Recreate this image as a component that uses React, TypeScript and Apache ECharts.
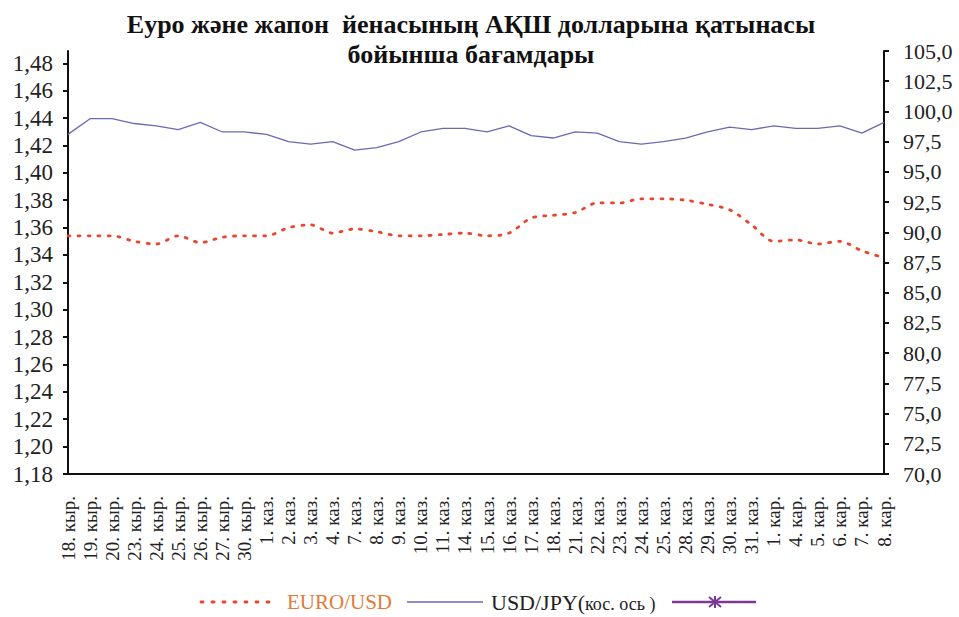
import React, { useEffect, useRef } from "react";
import * as echarts from "echarts";

const categories = [
  "18. кыр.", "19. кыр.", "20. кыр.", "23. кыр.", "24. кыр.", "25. кыр.", "26. кыр.", "27. кыр.", "30. кыр.",
  "1. каз.", "2. каз.", "3. каз.", "4. каз.", "7. каз.", "8. каз.", "9. каз.", "10. каз.", "11. каз.",
  "14. каз.", "15. каз.", "16. каз.", "17. каз.", "18. каз.", "21. каз.", "22. каз.", "23. каз.", "24. каз.",
  "25. каз.", "28. каз.", "29. каз.", "30. каз.", "31. каз.",
  "1. кар.", "4. кар.", "5. кар.", "6. кар.", "7. кар.", "8. кар.",
];

const euroUsd = [
  1.354, 1.354, 1.354, 1.350, 1.348, 1.354, 1.349, 1.353, 1.354,
  1.354, 1.360, 1.362, 1.356, 1.359, 1.357, 1.354, 1.354, 1.355,
  1.356, 1.354, 1.356, 1.367, 1.369, 1.371, 1.378, 1.378, 1.381,
  1.381, 1.380, 1.377, 1.373, 1.362,
  1.350, 1.351, 1.348, 1.350, 1.343, 1.338,
];

const usdJpy = [
  98.1, 99.4, 99.4, 99.0, 98.8, 98.5, 99.1, 98.3, 98.3,
  98.1, 97.5, 97.3, 97.5, 96.8, 97.0, 97.5, 98.3, 98.6,
  98.6, 98.3, 98.8, 98.0, 97.8, 98.3, 98.2, 97.5, 97.3,
  97.5, 97.8, 98.3, 98.7, 98.5,
  98.8, 98.6, 98.6, 98.8, 98.2, 99.1,
];

const leftMin = 1.18;
const leftMax = 1.489;
const leftStep = 0.02;
const rightMin = 70;
const rightMax = 105;
const rightStep = 2.5;

const titleText = "Еуро және жапон  йенасының АҚШ долларына қатынасы\nбойынша бағамдары";
const seriesNames = ["EURO/USD", "USD/JPY(кос. ось)"];

const SERIF = "'Liberation Serif', 'DejaVu Serif', serif";
const RED = "#e8452c";
const BLUE = "#6a6ab4";
const PURPLE = "#7b3a98";
const ORANGE = "#e27a36";

export default function App() {
  const ref = useRef<HTMLDivElement>(null);

  useEffect(() => {
    if (!ref.current) return;
    const chart = echarts.init(ref.current, null, { renderer: "svg" });
    const legendY = 602;
    chart.setOption({
      animation: false,
      backgroundColor: "#ffffff",
      title: {
        text: titleText,
        left: 466,
        top: 4,
        textAlign: "center",
        textStyle: {
          fontFamily: SERIF,
          fontWeight: "bold",
          fontSize: 26,
          lineHeight: 30,
          color: "#111",
        },
      },
      grid: { left: 68, right: 75, top: 51, bottom: 143, containLabel: false },
      xAxis: {
        type: "category",
        data: categories,
        boundaryGap: false,
        axisLine: { show: true, lineStyle: { color: "#111", width: 2 } },
        axisTick: { show: false },
        axisLabel: {
          interval: 0,
          rotate: 90,
          margin: 22,
          fontFamily: SERIF,
          fontSize: 19,
          color: "#222",
        },
        splitLine: { show: false },
      },
      yAxis: [
        {
          type: "value",
          min: leftMin,
          max: leftMax,
          interval: leftStep,
          position: "left",
          axisLine: { show: true, lineStyle: { color: "#111", width: 2 } },
          axisTick: { show: true, length: 5, inside: false, lineStyle: { color: "#111", width: 2 } },
          axisLabel: {
            showMaxLabel: false,
            margin: 15,
            fontFamily: SERIF,
            fontSize: 23,
            color: "#222",
            formatter: (v: number) => v.toFixed(2).replace(".", ","),
          },
          splitLine: { show: false },
        },
        {
          type: "value",
          min: rightMin,
          max: rightMax,
          interval: rightStep,
          position: "right",
          axisLine: { show: true, lineStyle: { color: "#111", width: 2 } },
          axisTick: { show: true, length: 5, inside: false, lineStyle: { color: "#111", width: 2 } },
          axisLabel: {
            margin: 19,
            fontFamily: SERIF,
            fontSize: 22,
            color: "#222",
            formatter: (v: number) => v.toFixed(1).replace(".", ","),
          },
          splitLine: { show: false },
        },
      ],
      series: [
        {
          name: seriesNames[0],
          type: "line",
          yAxisIndex: 0,
          data: euroUsd,
          smooth: 0.3,
          showSymbol: false,
          lineStyle: { color: RED, width: 2.8, type: [2, 8], cap: "round" },
          itemStyle: { color: RED },
        },
        {
          name: seriesNames[1],
          type: "line",
          yAxisIndex: 1,
          data: usdJpy,
          showSymbol: false,
          lineStyle: { color: BLUE, width: 1.3 },
          itemStyle: { color: BLUE },
        },
      ],
      graphic: [
        {
          type: "line",
          shape: { x1: 201, y1: legendY, x2: 278, y2: legendY },
          style: { stroke: RED, lineWidth: 2.8, lineDash: [2, 9], lineCap: "round" },
        },
        {
          type: "text",
          x: 287,
          y: legendY,
          style: {
            text: "EURO/USD",
            fill: ORANGE,
            font: `21px ${SERIF}`,
            verticalAlign: "middle",
          },
        },
        {
          type: "line",
          shape: { x1: 407, y1: legendY, x2: 483, y2: legendY },
          style: { stroke: BLUE, lineWidth: 1.3 },
        },
        {
          type: "text",
          x: 491,
          y: legendY,
          style: {
            text: "USD/JPY(",
            fill: "#222",
            font: `22px ${SERIF}`,
            verticalAlign: "middle",
          },
        },
        {
          type: "text",
          x: 585,
          y: legendY + 2,
          style: {
            text: "кос. ось )",
            fill: "#222",
            font: `18px ${SERIF}`,
            verticalAlign: "middle",
          },
        },
        {
          type: "line",
          shape: { x1: 672, y1: legendY, x2: 756, y2: legendY },
          style: { stroke: PURPLE, lineWidth: 2.4 },
        },
        {
          type: "line",
          shape: { x1: 715, y1: legendY - 6, x2: 715, y2: legendY + 6 },
          style: { stroke: PURPLE, lineWidth: 2 },
        },
        {
          type: "line",
          shape: { x1: 709, y1: legendY - 5, x2: 721, y2: legendY + 5 },
          style: { stroke: PURPLE, lineWidth: 2 },
        },
        {
          type: "line",
          shape: { x1: 721, y1: legendY - 5, x2: 709, y2: legendY + 5 },
          style: { stroke: PURPLE, lineWidth: 2 },
        },
      ],
    });
    return () => chart.dispose();
  }, []);

  return (
    <div
      ref={ref}
      style={{ position: "fixed", left: 0, top: 0, width: 959, height: 617, background: "#fff" }}
    />
  );
}
